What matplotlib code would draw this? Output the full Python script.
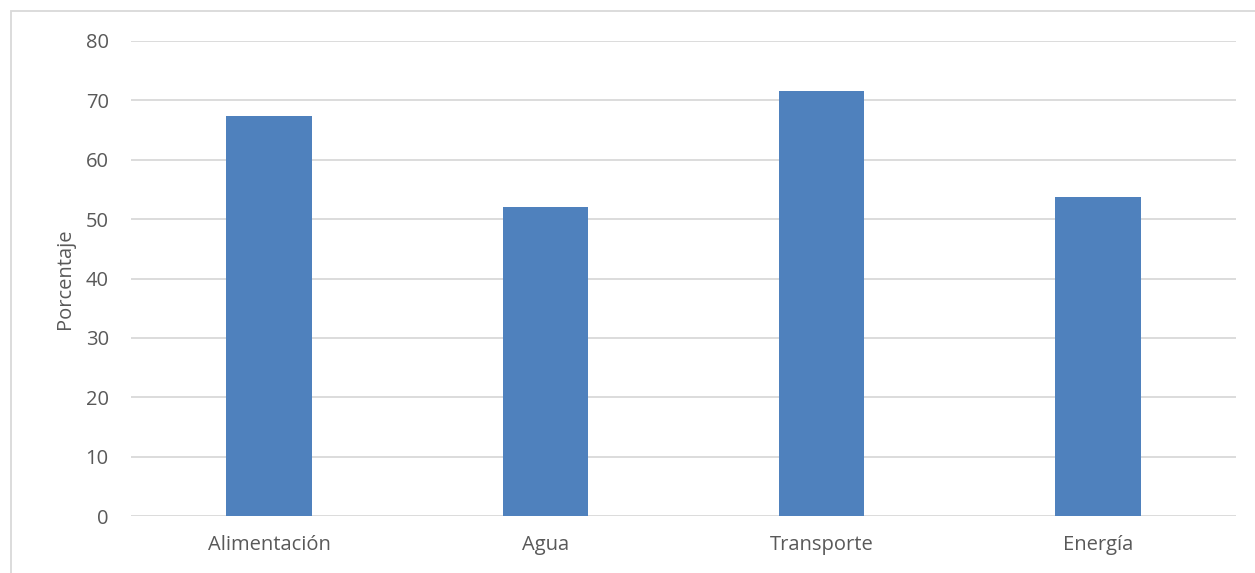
import matplotlib.pyplot as plt
import matplotlib.patches as mpatches

# Data
categorias = ['Alimentación', 'Agua', 'Transporte', 'Energía']
porcentajes = [67.4, 52.0, 71.5, 53.8]
y_ticks = [0, 10, 20, 30, 40, 50, 60, 70, 80]

plt.rcParams['font.family'] = ['Open Sans', 'DejaVu Sans']

fig = plt.figure(figsize=(12.55, 5.73), dpi=100)
ax = fig.add_axes([131 / 1255, 1 - 516 / 573, (1236 - 131) / 1255, (516 - 41) / 573])

x = range(len(categorias))
ax.bar(x, porcentajes, width=0.31, color='#4f81bd', zorder=3)

ax.set_xlim(-0.5, len(categorias) - 0.5)
ax.set_ylim(0, 80)
ax.set_yticks(y_ticks)
ax.set_xticks(list(x))
ax.set_xticklabels(categorias)
ax.grid(axis='y', color='#d9d9d9', linewidth=1.3, zorder=0)
ax.tick_params(length=0, labelsize=14.5, colors='#595959')
ax.tick_params(axis='y', pad=16)
ax.tick_params(axis='x', pad=14)
for s in ax.spines.values():
    s.set_visible(False)
ax.set_ylabel('Porcentaje', fontsize=14.5, color='#595959', labelpad=8)

# chart area border
fig.patches.append(mpatches.Rectangle((10.5 / 1255, -0.1), 1.2, 1 - 10.5 / 573 + 0.1,
                                      transform=fig.transFigure, fill=False,
                                      edgecolor='#d9d9d9', linewidth=1.3))

fig.savefig('out.png', dpi=100)
